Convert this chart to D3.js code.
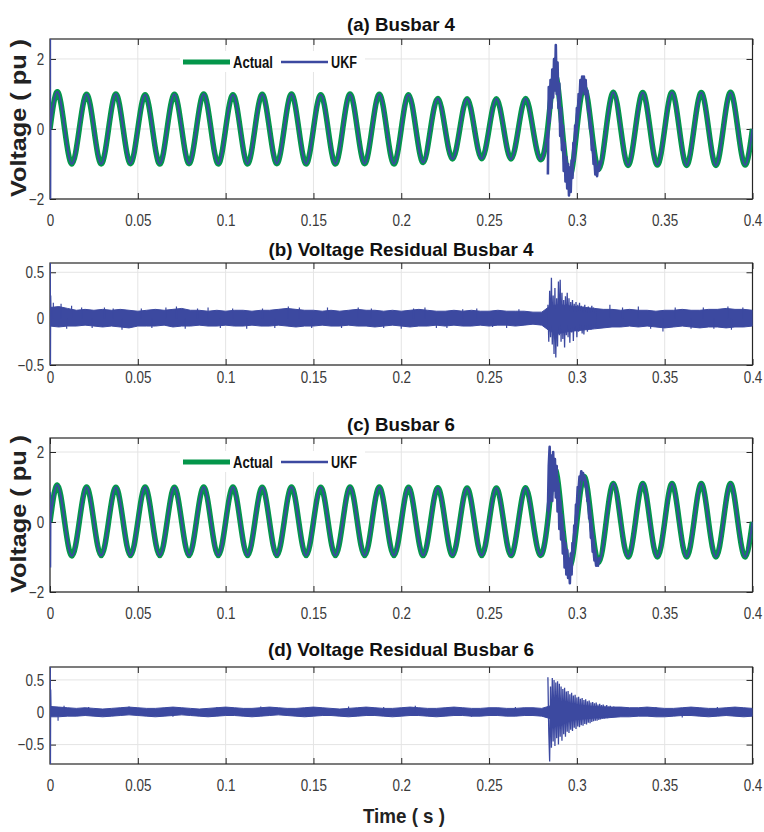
<!DOCTYPE html>
<html>
<head>
<meta charset="utf-8">
<script src="https://cdn.jsdelivr.net/npm/d3@7"></script>
<style>
  body { margin: 0; background: #fff; }
</style>
</head>
<body>
<svg id="fig" width="764" height="832"></svg>
<script>
// ---- data ----
const xTicks = [0, 0.05, 0.1, 0.15, 0.2, 0.25, 0.3, 0.35, 0.4]
const xTickLabels = ['0', '0.05', '0.1', '0.15', '0.2', '0.25', '0.3', '0.35', '0.4']
const yTicksVolt = [-2, 0, 2]
const yTicksRes = [-0.5, 0, 0.5]
const seriesNames = ['Actual', 'UKF']
const titles = ['(a) Busbar 4', '(b) Voltage Residual Busbar 4', '(c) Busbar 6', '(d) Voltage Residual Busbar 6']

// 60 Hz voltage, one peak and one trough per cycle (24 cycles in 0.4 s)
const peaksA = [1.06, 0.99, 1.0, 0.98, 0.99, 1.0, 0.98, 0.99, 1.0, 0.98, 1.0, 0.99, 0.98, 0.87, 0.86, 0.86, 0.87, 1.55, 1.2, 1.05, 1.04, 1.05, 1.04, 1.05]
const troughsA = [-1.0, -1.0, -0.99, -1.0, -0.99, -1.0, -1.0, -0.99, -1.0, -1.0, -0.99, -1.0, -0.96, -0.86, -0.85, -0.86, -0.87, -1.4, -1.15, -1.04, -1.03, -1.04, -1.04, -1.03]
const peaksC = [1.06, 1.0, 0.99, 1.0, 0.99, 1.0, 1.0, 0.99, 1.0, 0.99, 1.0, 1.0, 0.99, 0.98, 0.97, 0.97, 0.98, 1.5, 1.3, 1.1, 1.1, 1.1, 1.1, 1.1]
const troughsC = [-0.97, -0.96, -0.96, -0.96, -0.96, -0.96, -0.96, -0.96, -0.96, -0.96, -0.96, -0.96, -0.96, -0.96, -0.96, -0.96, -0.95, -1.3, -1.15, -1.0, -1.0, -1.0, -1.0, -1.0]

// UKF start-up transient (first samples)
const startT = [0, 0.00008, 0.00016, 0.0003, 0.0005]
const ukfStartA = [0, 3, -3, 0.6, 0.19]
const ukfStartC = [0, 0.85, -1.3, 0.4, 0.19]
const resStartB = [0, 0.7, -0.6, 0.25, 0.05]
const resStartD = [0, 0.75, -0.85, 0.35, 0.05]

// fault window samples, every 0.5 ms from 0.2835 s
const faultT0 = 0.2835
const faultDt = 0.0005
const ukfFaultA = [
  -1.3, 1.2, 0.2, 1.4, 0.6, 1.7, 0.9, 2.0, 1.1, 2.4,
  1.0, 1.9, 0.6, 1.3, -0.2, 0.6, -0.6, 0.1, -1.2, -0.4,
  -1.5, -0.8, -1.7, -1.0, -1.9, -1.1, -1.8, -0.9, -1.4, -0.4,
  -0.9, 0.1, -0.3, 0.6, 0.4, 1.0, 0.8, 1.4, 1.0, 1.5,
  1.1, 1.5, 1.0, 1.4, 0.9, 1.1, 0.5, 0.6, 0.0, 0.1,
  -0.6, -0.5, -1.0, -0.9, -1.3, -1.1, -1.35, -1.1, -1.2, -0.9]
const ukfFaultC = [
  0.3, 1.6, 2.15, 0.8, 1.9, 0.6, 2.0, 0.9, 1.8, 0.7,
  1.6, 0.3, 1.1, -0.2, 0.6, -0.5, 0.2, -0.9, -0.3, -1.3,
  -0.6, -1.5, -0.8, -1.6, -1.05, -1.75, -0.9, -1.5, -0.6, -0.9,
  -0.1, -0.3, 0.5, 0.5, 1.0, 0.95, 1.3, 1.2, 1.45, 1.25,
  1.4, 1.2, 1.3, 1.0, 1.05, 0.6, 0.6, 0.1, 0.1, -0.45,
  -0.4, -0.85, -0.8, -1.1, -1.05, -1.25, -1.15, -1.25, -1.1, -1.0]
const resFaultB = [
  0.15, -0.25, 0.30, -0.20, 0.44, -0.28, 0.25, -0.38, 0.33, -0.42,
  0.22, -0.30, 0.40, -0.18, 0.42, -0.25, 0.28, -0.22, 0.20, -0.31,
  0.24, -0.18, 0.28, -0.20, 0.22, -0.26, 0.18, -0.15, 0.20, -0.24,
  0.16, -0.13, 0.18, -0.20, 0.15, -0.14, 0.17, -0.12, 0.14, -0.16,
  0.13, -0.17, 0.15, -0.12, 0.12, -0.14, 0.13, -0.11, 0.11, -0.12,
  0.14, -0.10, 0.12, -0.10, 0.11, -0.09]
const resFaultD = [
  0.54, -0.30, -0.76, 0.40, -0.55, 0.53, -0.45, 0.50, -0.52, 0.46,
  -0.40, 0.48, -0.50, 0.44, -0.38, 0.40, -0.44, 0.36, -0.34, 0.38,
  -0.38, 0.32, -0.30, 0.33, -0.32, 0.28, -0.27, 0.30, -0.29, 0.26,
  -0.24, 0.27, -0.26, 0.23, -0.22, 0.24, -0.23, 0.21, -0.20, 0.22,
  -0.21, 0.19, -0.18, 0.20, -0.19, 0.17, -0.16, 0.18, -0.17, 0.15,
  -0.15, 0.16, -0.14, 0.14, -0.13, 0.15, -0.13, 0.12, -0.12, 0.13,
  -0.11, 0.11, -0.10, 0.12, -0.10, 0.10, -0.09, 0.11, -0.09, 0.09,
  -0.08, 0.10, -0.08, 0.08, -0.07, 0.09, -0.07, 0.08, -0.06, 0.08,
  -0.06, 0.07, -0.06, 0.07, -0.05, 0.06, -0.05, 0.06, -0.05, 0.06,
  -0.04, 0.05, -0.04, 0.05]

// residual noise band, upper / lower edge every 5 ms (x0.01 pu)
const resUpperB = [
  12, 13, 11, 9, 10, 9, 10, 9, 10, 9,
  8, 9, 10, 9, 10, 11, 9, 9, 8, 9,
  8, 9, 9, 8, 9, 9, 10, 11, 10, 9,
  9, 8, 9, 8, 9, 10, 9, 9, 8, 9,
  8, 9, 10, 9, 8, 8, 9, 8, 9, 8,
  8, 9, 8, 8, 8, 7, 7, 14, 15, 14,
  13, 12, 11, 10, 10, 9, 10, 9, 9, 8,
  9, 9, 10, 9, 9, 10, 10, 11, 10, 10, 9]
const resLowerB = [
  -8, -9, -8, -8, -7, -8, -9, -8, -9, -10,
  -8, -8, -8, -7, -9, -8, -8, -7, -8, -8,
  -7, -8, -8, -7, -8, -8, -7, -8, -9, -8,
  -8, -7, -8, -8, -7, -8, -8, -9, -8, -7,
  -8, -9, -8, -8, -7, -8, -7, -8, -8, -7,
  -8, -7, -7, -8, -7, -6, -7, -14, -16, -14,
  -13, -12, -11, -10, -9, -9, -8, -9, -8, -9,
  -10, -9, -8, -9, -10, -9, -9, -10, -9, -9, -8]
const resUpperD = [
  9, 8, 7, 6, 7, 6, 5, 6, 7, 8,
  7, 6, 6, 7, 8, 7, 6, 5, 6, 7,
  8, 7, 6, 6, 7, 8, 7, 6, 6, 7,
  8, 7, 6, 5, 6, 7, 8, 7, 6, 6,
  7, 8, 7, 6, 6, 7, 8, 7, 6, 6,
  7, 7, 6, 6, 7, 7, 6, 10, 12, 12,
  11, 10, 9, 8, 8, 8, 7, 7, 8, 7,
  6, 6, 7, 8, 7, 6, 6, 7, 8, 7, 6]
const resLowerD = [
  -7, -7, -6, -6, -5, -6, -7, -6, -5, -4,
  -5, -6, -7, -6, -5, -4, -5, -6, -7, -6,
  -5, -5, -6, -7, -6, -5, -4, -5, -6, -7,
  -6, -5, -5, -6, -7, -6, -5, -5, -6, -7,
  -6, -5, -5, -6, -7, -6, -5, -5, -6, -6,
  -5, -5, -6, -6, -5, -5, -6, -10, -12, -12,
  -11, -10, -9, -9, -8, -7, -7, -6, -6, -7,
  -7, -6, -5, -5, -6, -7, -6, -5, -6, -7, -6]

// isolated noise spikes [time s, value pu]
const spikesB = [[0.0019, 0.17], [0.0063, 0.16], [0.0095, -0.11], [0.0123, 0.14], [0.018, 0.12], [0.024, -0.1],
  [0.031, 0.12], [0.036, 0.11], [0.041, -0.12], [0.052, 0.11], [0.058, -0.1], [0.066, 0.12], [0.072, 0.13],
  [0.077, -0.11], [0.084, 0.11], [0.09, 0.12], [0.097, -0.1], [0.104, 0.11], [0.112, -0.11], [0.121, 0.11],
  [0.128, -0.1], [0.1357, 0.13], [0.142, 0.12], [0.149, -0.1], [0.158, 0.12], [0.166, -0.1], [0.1755, 0.12],
  [0.183, 0.11], [0.19, -0.1], [0.2, -0.11], [0.207, 0.11], [0.2135, 0.12], [0.22, -0.1], [0.226, -0.1],
  [0.235, 0.1], [0.243, 0.11], [0.252, -0.09], [0.26, -0.1], [0.267, 0.1], [0.3188, 0.15], [0.326, 0.12],
  [0.335, 0.13], [0.342, -0.11], [0.349, -0.14], [0.356, 0.12], [0.365, -0.11], [0.372, 0.12], [0.378, -0.11],
  [0.386, 0.13], [0.388, -0.12], [0.3945, 0.12]]
const spikesD = [[0.0046, -0.13], [0.008, 0.1], [0.022, 0.08], [0.045, 0.09], [0.07, -0.07], [0.095, 0.08],
  [0.12, 0.09], [0.146, -0.07], [0.17, 0.09], [0.19, 0.08], [0.208, 0.1], [0.24, -0.07], [0.265, 0.08],
  [0.345, 0.08], [0.36, -0.08], [0.38, 0.08]]

// ---- drawing ----
const FONT = "'Liberation Sans', Arial, sans-serif"
const GREEN = '#04964a'
const BLUE = '#3c49a0'
const INK = '#262626'

const svg = d3.select('#fig')
const x = d3.scaleLinear().domain([0, 0.4]).range([50, 752.5])

function sinePoints(peaks, troughs) {
  const pts = []
  peaks.forEach((p, n) => {
    pts.push([n * 4, 0], [n * 4 + 1, p], [n * 4 + 2, 0], [n * 4 + 3, troughs[n]])
  })
  pts.push([peaks.length * 4, 0])
  return pts.map(([k, v]) => [k * 0.4 / (peaks.length * 4), v])
}
const zipT = (ts, vs) => vs.map((v, i) => [ts[i], v])
const faultPts = vs => vs.map((v, i) => [faultT0 + i * faultDt, v])
const bandPts = (up, lo) => up.map((u, i) => [i * 0.4 / (up.length - 1), u / 100, lo[i] / 100])

function panel(id, top, bottom, yDomain, yTicks, labelGap, title, titleY, titleW) {
  const y = d3.scaleLinear().domain(yDomain).range([bottom, top])
  const g = svg.append('g')

  // grid
  g.selectAll('line.gx').data(xTicks).join('line')
    .attr('x1', d => x(d)).attr('x2', d => x(d)).attr('y1', top).attr('y2', bottom)
    .attr('stroke', '#e4e4e4').attr('stroke-width', 1)
  g.selectAll('line.gy').data(yTicks).join('line')
    .attr('x1', x(0)).attr('x2', x(0.4)).attr('y1', d => y(d)).attr('y2', d => y(d))
    .attr('stroke', '#e4e4e4').attr('stroke-width', 1)

  // axes, ticks pointing inward
  const fmt = d3.format('')
  const bottomAx = g.append('g').attr('transform', `translate(0,${bottom})`)
    .call(d3.axisBottom(x).tickValues(xTicks).tickFormat((d, i) => xTickLabels[i]).tickSizeInner(-6).tickSizeOuter(0).tickPadding(labelGap))
  const leftAx = g.append('g').attr('transform', `translate(${x(0)},0)`)
    .call(d3.axisLeft(y).tickValues(yTicks).tickFormat(d => fmt(d)).tickSizeInner(-6).tickSizeOuter(0).tickPadding(7))
  const ax = [
    bottomAx,
    g.append('g').attr('transform', `translate(0,${top})`)
      .call(d3.axisTop(x).tickValues(xTicks).tickFormat('').tickSizeInner(-6).tickSizeOuter(0)),
    leftAx,
    g.append('g').attr('transform', `translate(${x(0.4)},0)`)
      .call(d3.axisRight(y).tickValues(yTicks).tickFormat('').tickSizeInner(-6).tickSizeOuter(0))
  ]
  ax.forEach(a => {
    a.select('.domain').remove()
    a.selectAll('line').attr('stroke', INK)
    a.selectAll('text').attr('font-family', FONT).attr('font-size', 16).attr('fill', '#3a3a3a')
      .attr('transform', 'scale(0.84,1)')
  })
  g.append('rect').attr('x', x(0)).attr('y', top).attr('width', x(0.4) - x(0)).attr('height', bottom - top)
    .attr('fill', 'none').attr('stroke', INK).attr('stroke-width', 1.2)

  svg.append('clipPath').attr('id', id).append('rect')
    .attr('x', x(0)).attr('y', top).attr('width', x(0.4) - x(0)).attr('height', bottom - top)
  const plot = svg.append('g').attr('clip-path', `url(#${id})`)

  svg.append('text').attr('x', 401).attr('y', titleY).attr('text-anchor', 'middle')
    .attr('font-family', FONT).attr('font-weight', 'bold').attr('font-size', 19).attr('fill', '#111')
    .attr('textLength', titleW).attr('lengthAdjust', 'spacingAndGlyphs')
    .text(title)
  return { y, plot }
}

function voltagePanel(p, peaks, troughs, ukfStart, ukfFault, legendTop) {
  const line = d3.line().x(d => x(d[0])).y(d => p.y(d[1]))
  const smooth = sinePoints(peaks, troughs)
  p.plot.append('path').attr('d', line.curve(d3.curveNatural)(smooth))
    .attr('fill', 'none').attr('stroke', GREEN).attr('stroke-width', 5.5)
  p.plot.append('path').attr('d', line.curve(d3.curveNatural)(smooth))
    .attr('fill', 'none').attr('stroke', BLUE).attr('stroke-width', 2)
  p.plot.append('path').attr('d', line.curve(d3.curveLinear)(zipT(startT, ukfStart)))
    .attr('fill', 'none').attr('stroke', BLUE).attr('stroke-width', 2)
  p.plot.append('path').attr('d', line.curve(d3.curveLinear)(faultPts(ukfFault)))
    .attr('fill', 'none').attr('stroke', BLUE).attr('stroke-width', 2.6).attr('stroke-linejoin', 'round')

  // legend
  const lg = svg.append('g')
  lg.append('rect').attr('x', 180).attr('y', legendTop).attr('width', 185).attr('height', 21).attr('fill', '#fff')
  const items = seriesNames.map((name, i) => ({ name, x0: [183, 281][i], color: [GREEN, BLUE][i], w: [5, 2.5][i], tw: [40, 26][i] }))
  lg.selectAll('line').data(items).join('line')
    .attr('x1', d => d.x0).attr('x2', d => d.x0 + 47).attr('y1', legendTop + 11).attr('y2', legendTop + 11)
    .attr('stroke', d => d.color).attr('stroke-width', d => d.w)
  lg.selectAll('text').data(items).join('text')
    .attr('x', d => d.x0 + 50).attr('y', legendTop + 17)
    .attr('font-family', FONT).attr('font-weight', 'bold').attr('font-size', 16).attr('fill', '#111')
    .attr('textLength', d => d.tw).attr('lengthAdjust', 'spacingAndGlyphs')
    .text(d => d.name)
}

function residualPanel(p, upper, lower, spikes, start, fault) {
  const band = bandPts(upper, lower)
  p.plot.append('path')
    .attr('d', d3.area().x(d => x(d[0])).y0(d => p.y(d[2])).y1(d => p.y(d[1]))(band))
    .attr('fill', BLUE).attr('stroke', BLUE).attr('stroke-width', 1)
  p.plot.selectAll('line.spike').data(spikes).join('line')
    .attr('x1', d => x(d[0])).attr('x2', d => x(d[0])).attr('y1', p.y(0)).attr('y2', d => p.y(d[1]))
    .attr('stroke', BLUE).attr('stroke-width', 1.2)
  const line = d3.line().x(d => x(d[0])).y(d => p.y(d[1]))
  p.plot.append('path').attr('d', line(zipT(startT, start)))
    .attr('fill', 'none').attr('stroke', BLUE).attr('stroke-width', 1.6)
  p.plot.append('path').attr('d', line(faultPts(fault)))
    .attr('fill', 'none').attr('stroke', BLUE).attr('stroke-width', 1.3)
}

const pA = panel('clipA', 39, 199, [-2, 2.57], yTicksVolt, 16, titles[0], 31, 108)
voltagePanel(pA, peaksA, troughsA, ukfStartA, ukfFaultA, 51)
const pB = panel('clipB', 263, 365, [-0.5, 0.6], yTicksRes, 7, titles[1], 256, 265)
residualPanel(pB, resUpperB, resLowerB, spikesB, resStartB, resFaultB)
const pC = panel('clipC', 438, 592, [-2, 2.4], yTicksVolt, 16, titles[2], 431, 108)
voltagePanel(pC, peaksC, troughsC, ukfStartC, ukfFaultC, 451)
const pD = panel('clipD', 667, 764, [-0.8, 0.7], yTicksRes, 16, titles[3], 656, 266)
residualPanel(pD, resUpperD, resLowerD, spikesD, resStartD, resFaultD)

// axis labels
;[[118, 'Voltage ( pu )'], [514, 'Voltage ( pu )']].forEach(([cy, txt]) => {
  svg.append('text').attr('transform', `translate(26,${cy}) rotate(-90)`).attr('text-anchor', 'middle')
    .attr('font-family', FONT).attr('font-weight', 'bold').attr('font-size', 22).attr('fill', '#222')
    .attr('textLength', 158).attr('lengthAdjust', 'spacingAndGlyphs')
    .text(txt)
})
svg.append('text').attr('x', 404).attr('y', 823).attr('text-anchor', 'middle')
  .attr('font-family', FONT).attr('font-weight', 'bold').attr('font-size', 21).attr('fill', '#222')
  .attr('textLength', 82).attr('lengthAdjust', 'spacingAndGlyphs')
  .text('Time ( s )')
</script>
</body>
</html>
